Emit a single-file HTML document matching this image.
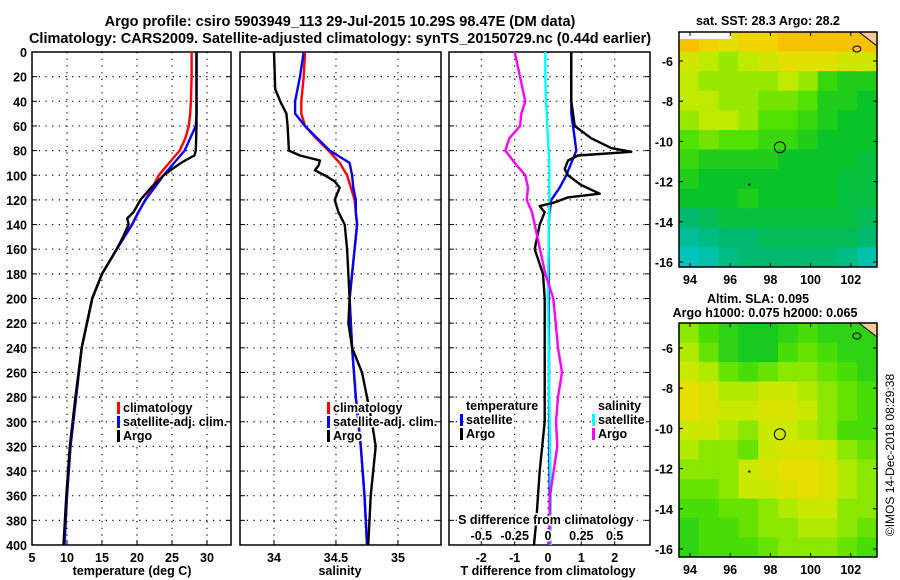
<!DOCTYPE html>
<html><head><meta charset="utf-8"><style>
body{margin:0;background:#fff}
svg{display:block;font-family:"Liberation Sans",Arial,sans-serif;font-weight:bold}
</style></head><body>
<svg id="c" width="900" height="580" viewBox="0 0 900 580">
<text x="340" y="26" font-size="14.5" text-anchor="middle">Argo profile: csiro 5903949_113 29-Jul-2015 10.29S 98.47E (DM data)</text>
<text x="340" y="43" font-size="14.5" text-anchor="middle">Climatology: CARS2009. Satellite-adjusted climatology: synTS_20150729.nc (0.44d earlier)</text>
<g id="g"></g>
</svg>
<script>
// ---- data ----
const depthTicks=[0,20,40,60,80,100,120,140,160,180,200,220,240,260,280,300,320,340,360,380,400];
const tTicks=[5,10,15,20,25,30];
const sTicks=[34,34.5,35];
const dTTicks=[-2,-1,0,1,2];
const dSTickLabels=["-0.5","-0.25","0","0.25","0.5"];
const dSTicks=[-0.5,-0.25,0,0.25,0.5];
const climDepth=[0,20,40,50,60,70,80,90,100,110,120,130,140,160,180,200,240,280,320,360,400];
const tempClim=[27.8,27.8,27.7,27.6,27.4,26.9,26.1,24.6,23.1,22.2,21.2,20.2,19.3,17.1,15.0,13.6,12.1,11.3,10.5,10.0,9.6];
const tempSat=[28.5,28.5,28.5,28.5,28.4,27.6,26.8,25.3,23.8,22.5,21.2,20.2,19.3,17.1,15.0,13.6,12.1,11.3,10.5,10.0,9.65];
const argoDepth=[0,20,40,60,80,84,87,90,95,100,110,120,130,135,140,150,160,180,200,240,280,320,360,400];
const tempArgo=[28.5,28.5,28.5,28.5,28.4,28.2,27.2,26.3,25.0,23.8,22.0,20.5,19.5,18.6,18.8,18.0,17.1,15.0,13.6,12.1,11.2,10.4,9.9,9.5];
const salClim=[34.25,34.24,34.22,34.22,34.25,34.34,34.44,34.53,34.59,34.62,34.65,34.66,34.67,34.65,34.63,34.61,34.63,34.66,34.70,34.73,34.75];
const salSat=[34.24,34.21,34.17,34.17,34.25,34.35,34.45,34.61,34.63,34.64,34.66,34.66,34.67,34.65,34.63,34.61,34.63,34.66,34.70,34.73,34.75];
const salArgoDepth=[0,30,40,50,60,80,84,88,92,96,100,105,110,115,120,130,140,160,200,220,240,260,280,300,320,340,360,380,400];
const salArgo=[34.0,34.01,34.05,34.1,34.11,34.12,34.21,34.37,34.36,34.33,34.41,34.49,34.53,34.51,34.49,34.52,34.57,34.59,34.61,34.60,34.63,34.71,34.75,34.79,34.82,34.80,34.78,34.77,34.76];
const dTArgoDepth=[0,40,60,70,78,81,84,88,95,100,108,115,118,122,125,130,140,160,180,200,260,300,340,380,400];
const dTArgo=[0.7,0.7,0.8,1.3,1.9,2.5,0.9,0.6,0.5,0.6,1.0,1.55,0.6,0.2,-0.25,-0.1,-0.25,-0.4,-0.15,-0.1,-0.1,-0.1,-0.25,-0.35,-0.42];
const dTSat=[0.7,0.7,0.7,0.7,0.75,0.8,0.85,0.7,0.55,0.35,0.1,0.05,0.02,0.02,0.02,0.02,0.03,0.03,0.04,0.05,0.05];
const dSSat=[-0.02,-0.02,-0.015,-0.01,-0.005,0,0.005,0.01,0.01,0.01,0.01,0.01,0.005,0.005,0,0,0.005,0.01,0.015,0.02,0.02];
const dSArgo=[-0.25,-0.21,-0.17,-0.2,-0.21,-0.29,-0.32,-0.25,-0.17,-0.15,-0.16,-0.12,-0.1,-0.06,-0.02,0.04,0.075,0.105,0.075,0.06,0.07,0.015,0.01];
const dSArgoDepth=[0,20,40,50,60,70,80,90,100,110,120,130,140,160,180,200,240,260,280,300,320,360,400];
const sstGrid=[
[0.95,0.9,0.85,0.9,0.9,0.95,0.95,0.95,0.95,0.95],
[0.8,0.75,0.7,0.75,0.8,0.85,0.85,0.85,0.8,0.8],
[0.75,0.7,0.7,0.7,0.7,0.75,0.7,0.55,0.5,0.5],
[0.75,0.75,0.7,0.7,0.65,0.65,0.6,0.5,0.5,0.45],
[0.7,0.75,0.75,0.7,0.6,0.6,0.55,0.5,0.45,0.45],
[0.6,0.65,0.6,0.6,0.55,0.55,0.5,0.45,0.45,0.45],
[0.55,0.5,0.5,0.5,0.5,0.45,0.45,0.45,0.45,0.4],
[0.5,0.45,0.45,0.45,0.45,0.45,0.45,0.45,0.4,0.4],
[0.45,0.45,0.45,0.5,0.45,0.45,0.45,0.45,0.4,0.4],
[0.3,0.35,0.4,0.4,0.4,0.4,0.4,0.4,0.4,0.35],
[0.2,0.25,0.3,0.3,0.35,0.35,0.35,0.35,0.35,0.3],
[0.1,0.15,0.25,0.3,0.3,0.3,0.3,0.3,0.25,0.15]];
const slaGrid=[
[0.68,0.58,0.53,0.48,0.48,0.53,0.58,0.53,0.53,0.53],
[0.73,0.63,0.53,0.48,0.48,0.58,0.63,0.58,0.53,0.53],
[0.78,0.73,0.63,0.58,0.63,0.68,0.68,0.63,0.58,0.53],
[0.86,0.82,0.73,0.73,0.78,0.78,0.73,0.68,0.63,0.58],
[0.86,0.82,0.78,0.78,0.82,0.82,0.78,0.68,0.63,0.58],
[0.78,0.78,0.73,0.68,0.78,0.78,0.73,0.68,0.58,0.58],
[0.73,0.68,0.68,0.63,0.78,0.82,0.82,0.78,0.68,0.63],
[0.68,0.68,0.68,0.78,0.82,0.86,0.86,0.82,0.73,0.68],
[0.63,0.63,0.68,0.78,0.78,0.82,0.86,0.82,0.73,0.68],
[0.58,0.58,0.63,0.63,0.68,0.73,0.78,0.78,0.68,0.68],
[0.53,0.58,0.58,0.63,0.68,0.68,0.73,0.73,0.68,0.63],
[0.53,0.58,0.58,0.58,0.63,0.68,0.68,0.68,0.63,0.58]];
const lonTicks=[94,96,98,100,102];
const latTicks=[-6,-8,-10,-12,-14,-16];
const argoLon=98.47, argoLat=-10.29;

// ---- helpers ----
const NS="http://www.w3.org/2000/svg";
const G=document.getElementById('g');
function el(t,a,p){const e=document.createElementNS(NS,t);for(const k in a)e.setAttribute(k,a[k]);(p||G).appendChild(e);return e;}
const Y0=52,Y1=545;
const yD=d=>Y0+d/400*(Y1-Y0);
function panel(x0,x1,min,max,name){
  const sx=v=>x0+(v-min)/(max-min)*(x1-x0);
  return {x0,x1,sx,name};
}
const P1=panel(32,231,5,33.43,'temperature');
const P2=panel(240,441,33.726,35.347,'salinity');
const P3=panel(449,650,-2.97,3.06,'difference');
const sxS=v=>P3.sx(v*4);

function frame(P,ticks,labels){
  for(const d of depthTicks){
    if(d>0&&d<400){const l=el('line',{x1:P.x0,x2:P.x1,y1:yD(d),y2:yD(d),stroke:'#000','stroke-width':1.2,'stroke-dasharray':'1.2 5.5'});
    }
    el('line',{x1:P.x0,x2:P.x0+5,y1:yD(d),y2:yD(d),stroke:'#000'});
    el('line',{x1:P.x1-5,x2:P.x1,y1:yD(d),y2:yD(d),stroke:'#000'});
  }
  ticks.forEach((t,i)=>{
    const x=P.sx(t);
    if(x>P.x0+2&&x<P.x1-2){const l=el('line',{x1:x,x2:x,y1:Y0,y2:Y1,stroke:'#000','stroke-width':1.2,'stroke-dasharray':'1.2 5.5'});
    }
    el('line',{x1:x,x2:x,y1:Y1,y2:Y1-5,stroke:'#000'});
    const tx=el('text',{x:x,y:562,'font-size':12.5,'text-anchor':'middle'});tx.textContent=labels[i];
    
  });
  const r=el('rect',{x:P.x0,y:Y0,width:P.x1-P.x0,height:Y1-Y0,fill:'none',stroke:'#000','stroke-width':1.5});
  
}
function line(xs,ds,fx,color,name,w){
  const pts=xs.map((v,i)=>fx(v).toFixed(1)+','+yD(ds[i]).toFixed(1)).join(' ');
  const p=el('polyline',{points:pts,fill:'none',stroke:color,'stroke-width':w||2.4,'stroke-linejoin':'round'});
  
}
function txt(x,y,s,fs,name,anchor){const t=el('text',{x:x,y:y,'font-size':fs,'text-anchor':anchor||'start'});t.textContent=s;
  return t;}
function legend(x,y,items,name){
  items.forEach((it,i)=>{
    if(it[1]){const r=el('rect',{x:x,y:y+i*14-10,width:3,height:12,fill:it[1]});
    }
    const t=txt(x+6,y+i*14,it[0],12.5,name+'-entry');
    t.setAttribute('style','paint-order:stroke');t.setAttribute('stroke','#fff');t.setAttribute('stroke-width','3');
  });
}

depthTicks.forEach(d=>txt(27,yD(d)+5,String(d),12.5,'y-tick-label','end'));

frame(P1,tTicks,tTicks.map(String));
line(tempClim,climDepth,P1.sx,'#f00','temp-climatology-line');
line(tempSat,climDepth,P1.sx,'#00f','temp-satellite-line');
line(tempArgo,argoDepth,P1.sx,'#000','temp-argo-line');
legend(117,412,[['climatology','#f00'],['satellite-adj. clim.','#00f'],['Argo','#000']],'temp-legend');
txt(132,575,'temperature (deg C)',12.5,'temp-x-axis-title','middle');

frame(P2,sTicks,['34','34.5','35']);
line(salClim,climDepth,P2.sx,'#f00','sal-climatology-line');
line(salSat,climDepth,P2.sx,'#00f','sal-satellite-line');
line(salArgo,salArgoDepth,P2.sx,'#000','sal-argo-line');
legend(327,412,[['climatology','#f00'],['satellite-adj. clim.','#00f'],['Argo','#000']],'sal-legend');
txt(340,575,'salinity',12.5,'sal-x-axis-title','middle');

frame(P3,dTTicks,dTTicks.map(String));
line(dTSat,climDepth,P3.sx,'#00f','dT-satellite-line');
line(dSSat,climDepth,sxS,'#0ff','dS-satellite-line');
line(dTArgo,dTArgoDepth,P3.sx,'#000','dT-argo-line');
line(dSArgo,dSArgoDepth,sxS,'#f0f','dS-argo-line');
legend(460,410,[['temperature',null],['satellite','#00f'],['Argo','#000']],'dT-legend');
legend(592,410,[['salinity',null],['satellite','#0ff'],['Argo','#f0f']],'dS-legend');
{const t=txt(546,524,'S difference from climatology',12.5,'dS-axis-title','middle');t.setAttribute('stroke','#fff');t.setAttribute('stroke-width','3');t.setAttribute('style','paint-order:stroke');}
dSTicks.forEach((v,i)=>{const t=txt(sxS(v),540,dSTickLabels[i],12.5,'dS-tick-label','middle');t.setAttribute('stroke','#fff');t.setAttribute('stroke-width','3');t.setAttribute('style','paint-order:stroke');});
txt(548,575,'T difference from climatology',12.5,'dT-x-axis-title','middle');

function cmap(v){
  const st=[[0,[0,200,230]],[0.3,[0,185,110]],[0.45,[10,195,40]],[0.6,[80,225,0]],[0.75,[190,235,0]],[0.88,[240,220,0]],[1,[250,175,0]]];
  for(let i=1;i<st.length;i++){if(v<=st[i][0]){const a=st[i-1],b=st[i],f=(v-a[0])/(b[0]-a[0]);
    return 'rgb('+a[1].map((c,k)=>Math.round(c+(b[1][k]-c)*f)).join(',')+')';}}
  return 'rgb(250,175,0)';
}
function map(x0,y0,w,h,lat6y,grid,name,white){
  const sx=lon=>x0+11+(lon-94)*20.1;
  const sy=lat=>lat6y+(-6-lat)*20.1;
  const rows=grid.length,cols=grid[0].length,cw=w/cols,ch=h/rows;
  grid.forEach((row,r)=>row.forEach((v,c)=>{
    const e=el('rect',{x:x0+c*cw,y:y0+r*ch,width:cw+0.5,height:ch+0.5,fill:cmap(v)});
    
  }));
  if(white){el('rect',{x:x0,y:y0,width:52,height:7,fill:'#fff'});}
  const land=el('polygon',{points:`${x0+w-18},${y0} ${x0+w},${y0} ${x0+w},${y0+14}`,fill:'#fbc89a',stroke:'#000'});
  
  el('ellipse',{cx:sx(102.3),cy:sy(-5.4),rx:4,ry:3,fill:'none',stroke:'#000'});
  el('line',{x1:sx(96.9),x2:sx(97),y1:sy(-12.15),y2:sy(-12.15),stroke:'#000','stroke-width':2});
  const c=el('circle',{cx:sx(argoLon),cy:sy(argoLat),r:5.5,fill:'none',stroke:'#000','stroke-width':1});
  
  const f=el('rect',{x:x0,y:y0,width:w,height:h,fill:'none',stroke:'#000','stroke-width':1.5});
  
  lonTicks.forEach(l=>{el('line',{x1:sx(l),x2:sx(l),y1:y0+h,y2:y0+h-4,stroke:'#000'});el('line',{x1:sx(l),x2:sx(l),y1:y0,y2:y0+4,stroke:'#000'});
    txt(sx(l),y0+h+17,String(l),12.5,name+'-lon-label','middle');});
  latTicks.forEach(l=>{el('line',{x1:x0,x2:x0+4,y1:sy(l),y2:sy(l),stroke:'#000'});el('line',{x1:x0+w,x2:x0+w-4,y1:sy(l),y2:sy(l),stroke:'#000'});
    txt(x0-6,sy(l)+5,String(l),12.5,name+'-lat-label','end');});
}
map(679,32,198,235,61,sstGrid,'sst-map',true);
txt(768,25,'sat. SST: 28.3 Argo: 28.2',12.5,'sst-map-title','middle');
map(679,323,198,234,348,slaGrid,'sla-map',false);
txt(758,303,'Altim. SLA: 0.095',12.5,'sla-map-title','middle');
txt(765,317,'Argo h1000: 0.075 h2000: 0.065',12.5,'sla-map-subtitle','middle');
{const t=txt(0,0,'©IMOS 14-Dec-2018 08:29:38',12,'timestamp','middle');t.setAttribute('font-weight','normal');t.setAttribute('transform','translate(894,455) rotate(-90)');}
</script>
</body></html>
